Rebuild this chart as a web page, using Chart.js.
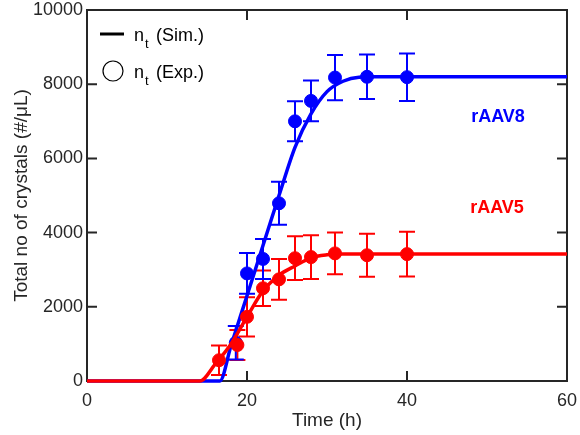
<!DOCTYPE html>
<html>
<head>
<meta charset="utf-8">
<script src="https://cdn.jsdelivr.net/npm/chart.js@4.4.1/dist/chart.umd.min.js"></script>
<style>
  html, body { margin: 0; padding: 0; background: #fff; }
  #wrap { width: 580px; height: 435px; }
</style>
</head>
<body>
<div id="wrap"><canvas id="myChart" width="580" height="435"></canvas></div>
<script>
// simulated curves
var simTime8 = [0, 16.6, 18, 20, 22, 24, 26, 28, 30, 32, 34, 36, 60];
var simRaav8 = [0, 0, 950, 2300, 3650, 5000, 6300, 7200, 7800, 8080, 8190, 8200, 8200];
var simTime5 = [0, 14.1, 16, 18, 20, 22, 24, 26, 28, 30, 32, 60];
var simRaav5 = [0, 0, 450, 1000, 1730, 2430, 2850, 3100, 3320, 3400, 3420, 3420];

// experiments with error bars
var expTime8 = [18.6, 20, 22, 24, 26, 28, 31, 35, 40];
var expRaav8 = [1030, 2900, 3290, 4790, 7000, 7550, 8180, 8200, 8190];
var errRaav8 = [450, 550, 540, 580, 540, 550, 610, 600, 640];
var expTime5 = [16.5, 18.8, 20, 22, 24, 26, 28, 31, 35, 40];
var expRaav5 = [560, 970, 1730, 2500, 2740, 3310, 3340, 3440, 3390, 3420];
var errRaav5 = [400, 405, 530, 480, 550, 590, 590, 560, 580, 600];

var xTicks = [0, 20, 40, 60];
var yTicks = [0, 2000, 4000, 6000, 8000, 10000];

var BLUE = '#0000ff';
var RED = '#ff0000';
var INK = '#262626';
var FONT = '"Liberation Sans", Arial, Helvetica, sans-serif';

function pts(xs, ys) {
  var out = [];
  for (var i = 0; i < xs.length; i++) out.push({x: xs[i], y: ys[i]});
  return out;
}

var errorBars = {
  id: 'errorBars',
  beforeDatasetsDraw: function(chart) {
    var ctx = chart.ctx, a = chart.chartArea;
    var xs = chart.scales.x, ys = chart.scales.y;
    ctx.save();

    // box and inward ticks go under the data
    ctx.strokeStyle = INK;
    ctx.lineWidth = 2;
    ctx.strokeRect(a.left, a.top, a.right - a.left, a.bottom - a.top);
    ctx.beginPath();
    for (var i = 1; i < xTicks.length - 1; i++) {
      var tx = xs.getPixelForValue(xTicks[i]);
      ctx.moveTo(tx, a.bottom); ctx.lineTo(tx, a.bottom - 10);
      ctx.moveTo(tx, a.top); ctx.lineTo(tx, a.top + 10);
    }
    for (var j = 1; j < yTicks.length - 1; j++) {
      var ty = ys.getPixelForValue(yTicks[j]);
      ctx.moveTo(a.left, ty); ctx.lineTo(a.left + 10, ty);
      ctx.moveTo(a.right, ty); ctx.lineTo(a.right - 10, ty);
    }
    ctx.stroke();

    var sets = [[expTime5, expRaav5, errRaav5, RED], [expTime8, expRaav8, errRaav8, BLUE]];
    ctx.lineWidth = 2;
    for (var s = 0; s < sets.length; s++) {
      var t = sets[s][0], v = sets[s][1], e = sets[s][2];
      ctx.strokeStyle = sets[s][3];
      for (var k = 0; k < t.length; k++) {
        var px = xs.getPixelForValue(t[k]);
        var top = ys.getPixelForValue(v[k] + e[k]);
        var bot = ys.getPixelForValue(v[k] - e[k]);
        ctx.beginPath();
        ctx.moveTo(px, top); ctx.lineTo(px, bot);
        ctx.moveTo(px - 8, top); ctx.lineTo(px + 8, top);
        ctx.moveTo(px - 8, bot); ctx.lineTo(px + 8, bot);
        ctx.stroke();
      }
    }
    ctx.restore();
  }
};

var labels = {
  id: 'labels',
  afterDraw: function(chart) {
    var ctx = chart.ctx;
    ctx.save();
    // legend
    ctx.strokeStyle = '#000';
    ctx.lineWidth = 3;
    ctx.beginPath();
    ctx.moveTo(100, 34); ctx.lineTo(124, 34);
    ctx.stroke();
    ctx.lineWidth = 1.2;
    ctx.beginPath();
    ctx.arc(113, 71, 10, 0, Math.PI * 2);
    ctx.stroke();
    ctx.fillStyle = '#000';
    ctx.textBaseline = 'alphabetic';
    ctx.textAlign = 'left';
    var rows = [['(Sim.)', 41], ['(Exp.)', 78]];
    for (var r = 0; r < rows.length; r++) {
      ctx.font = '18px ' + FONT;
      ctx.fillText('n', 134, rows[r][1]);
      ctx.font = '13px ' + FONT;
      ctx.fillText('t', 145, rows[r][1] + 7);
      ctx.font = '18px ' + FONT;
      ctx.fillText(rows[r][0], 156, rows[r][1]);
    }

    // series labels
    ctx.font = 'bold 18px ' + FONT;
    ctx.textAlign = 'center';
    ctx.textBaseline = 'middle';
    ctx.fillStyle = BLUE;
    ctx.fillText('rAAV8', 498, 117);
    ctx.fillStyle = RED;
    ctx.fillText('rAAV5', 497, 208);
    ctx.restore();
  }
};

var ctx = document.getElementById('myChart').getContext('2d');
var myChart = new Chart(ctx, {
  type: 'scatter',
  data: {
    datasets: [
      {
        data: pts(expTime5, expRaav5),
        backgroundColor: RED, borderColor: RED,
        pointRadius: 6.5, showLine: false
      },
      {
        data: pts(simTime5, simRaav5),
        borderColor: RED, borderWidth: 3.5, clip: false,
        pointRadius: 0, showLine: true, cubicInterpolationMode: 'monotone'
      },
      {
        data: pts(expTime8, expRaav8),
        backgroundColor: BLUE, borderColor: BLUE,
        pointRadius: 6.5, showLine: false
      },
      {
        data: pts(simTime8, simRaav8),
        borderColor: BLUE, borderWidth: 3.5, clip: false,
        pointRadius: 0, showLine: true, cubicInterpolationMode: 'monotone'
      }
    ]
  },
  options: {
    responsive: false,
    animation: false,
    events: [],
    layout: { padding: { left: 0, top: 10, right: 13, bottom: 0 } },
    plugins: {
      legend: { display: false },
      tooltip: { enabled: false }
    },
    scales: {
      x: {
        type: 'linear', min: 0, max: 60,
        afterFit: function(s) { s.height = 54; s.paddingLeft = 0; s.paddingRight = 0; },
        afterBuildTicks: function(s) { s.ticks = xTicks.map(function(v) { return {value: v}; }); },
        grid: { display: false, drawTicks: false },
        border: { display: false },
        ticks: { color: INK, font: { family: FONT, size: 18 }, padding: 9, maxRotation: 0,
                 callback: function(v) { return String(v); } },
        title: { display: true, text: 'Time (h)', color: INK, font: { family: FONT, size: 19 }, padding: { top: 0, bottom: 3 } }
      },
      y: {
        type: 'linear', min: 0, max: 10000,
        afterFit: function(s) { s.width = 87; s.paddingTop = 0; s.paddingBottom = 0; },
        afterBuildTicks: function(s) { s.ticks = yTicks.map(function(v) { return {value: v}; }); },
        grid: { display: false, drawTicks: false },
        border: { display: false },
        ticks: { color: INK, font: { family: FONT, size: 18 }, padding: 4,
                 callback: function(v) { return String(v); } },
        title: { display: true, text: 'Total no of crystals (#/\u03bcL)', color: INK, font: { family: FONT, size: 19 }, padding: { top: 10, bottom: 0 } }
      }
    }
  },
  plugins: [errorBars, labels]
});
</script>
</body>
</html>
